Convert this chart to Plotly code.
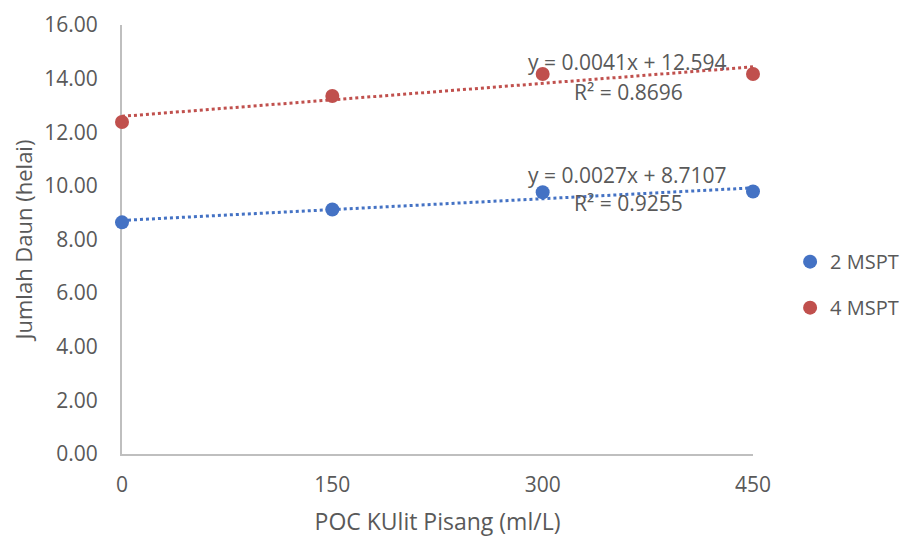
import plotly.graph_objects as go

x_vals = [0, 150, 300, 450]
mspt2 = [8.64, 9.12, 9.76, 9.79]
mspt4 = [12.38, 13.35, 14.17, 14.17]
series_names = ["2 MSPT", "4 MSPT"]
slopes = [0.0027, 0.0041]
intercepts = [8.7107, 12.594]
eq_labels = ["y = 0.0027x + 8.7107", "y = 0.0041x + 12.594"]
r2_labels = ["R² = 0.9255", "R² = 0.8696"]
colors = ["#4472C4", "#C0504D"]
y_ticks = [0, 2, 4, 6, 8, 10, 12, 14, 16]
x_ticks = [0, 150, 300, 450]

FONT = "Open Sans"
GREY = "#595959"

fig = go.Figure()
for name, ys, m, b, c in zip(series_names, [mspt2, mspt4], slopes, intercepts, colors):
    tx = [x_vals[0], x_vals[-1]]
    fig.add_trace(go.Scatter(x=tx, y=[m * t + b for t in tx], mode="lines",
                             line=dict(color=c, width=3, dash="dot"),
                             showlegend=False, hoverinfo="skip", cliponaxis=False))
for i, (name, ys, c) in enumerate(zip(series_names, [mspt2, mspt4], colors)):
    fig.add_trace(go.Scatter(x=x_vals, y=ys, mode="markers", name=name,
                             legendgroup=f"g{i}", cliponaxis=False,
                             marker=dict(color=c, size=14)))

annots = []
eq_y = [10.41, 14.62]
r2_y = [9.36, 13.50]
for i, (eq, r2) in enumerate(zip(eq_labels, r2_labels)):
    annots.append(dict(x=360, y=eq_y[i], xref="x", yref="y", text=eq, showarrow=False,
                       xanchor="center", yanchor="middle",
                       font=dict(family=FONT, size=21, color=GREY)))
    annots.append(dict(x=361, y=r2_y[i], xref="x", yref="y", text=r2, showarrow=False,
                       xanchor="center", yanchor="middle",
                       font=dict(family=FONT, size=21, color=GREY)))

fig.update_layout(
    width=900, height=529,
    margin=dict(l=114, r=155, t=17, b=83),
    plot_bgcolor="white", paper_bgcolor="white",
    font=dict(family=FONT, size=21, color=GREY),
    annotations=annots,
    legend=dict(xref="container", yref="container", x=0.869, y=0.477,
                xanchor="left", yanchor="middle", itemwidth=30,
                font=dict(family=FONT, size=20, color=GREY),
                tracegroupgap=17),
    xaxis=dict(range=[0, 450], tickvals=x_ticks, ticktext=[str(v) for v in x_ticks],
               showgrid=False, zeroline=False, showline=True, linecolor="#BFBFBF",
               linewidth=2, ticks="", ticklabelstandoff=11, automargin=False,
               layer="below traces",
               title=dict(text="POC KUlit Pisang (ml/L)", font=dict(family=FONT, size=23, color=GREY), standoff=17),
               tickfont=dict(family=FONT, size=21, color=GREY)),
    yaxis=dict(range=[0, 16], tickvals=y_ticks, ticktext=[f"{v:.2f}" for v in y_ticks],
               showgrid=False, zeroline=False, showline=True, linecolor="#BFBFBF",
               linewidth=2, ticks="", ticklabelstandoff=18, automargin=False,
               layer="below traces",
               title=dict(text="Jumlah Daun (helai)", font=dict(family=FONT, size=22, color=GREY), standoff=8),
               tickfont=dict(family=FONT, size=21, color=GREY)),
)

fig.write_html("out.html")
